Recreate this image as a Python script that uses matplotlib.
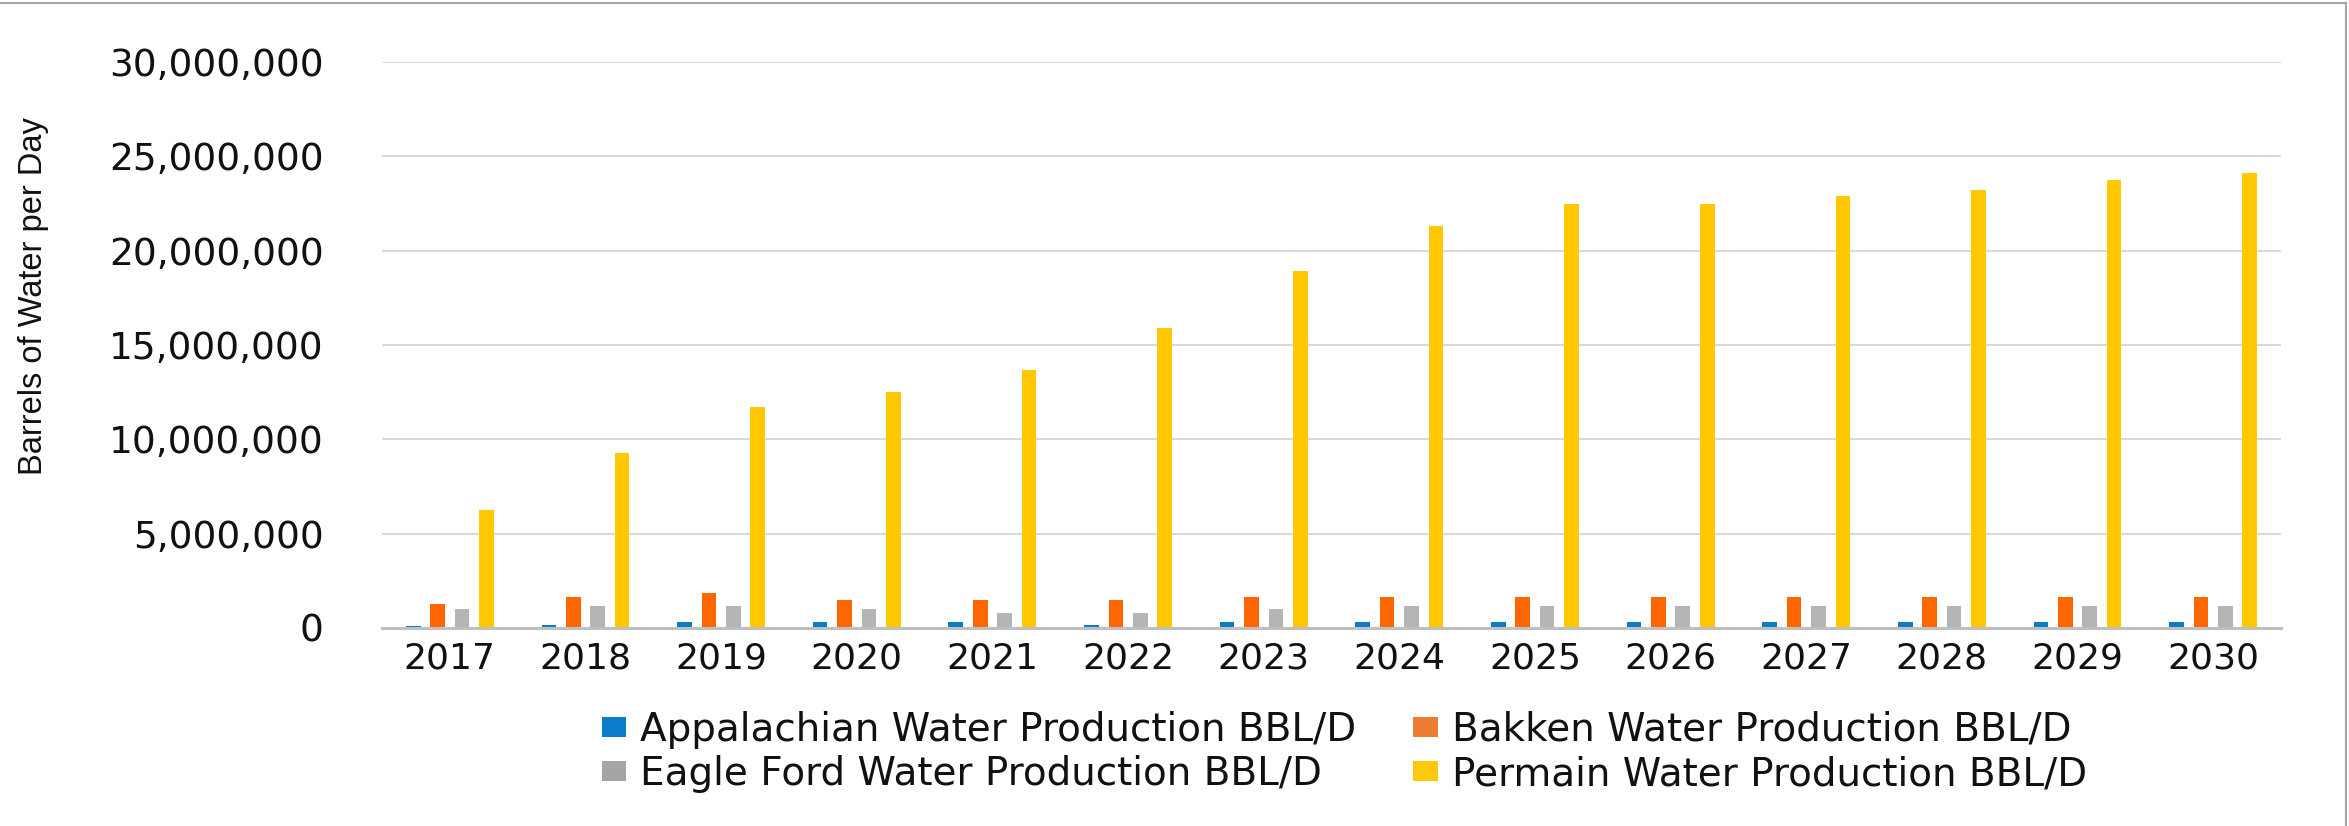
import matplotlib
matplotlib.use("Agg")
import matplotlib.pyplot as plt
import matplotlib.ticker as mticker
from matplotlib.patches import Patch
from matplotlib.lines import Line2D
import numpy as np

years = ["2017", "2018", "2019", "2020", "2021", "2022", "2023",
         "2024", "2025", "2026", "2027", "2028", "2029", "2030"]

# barrels of water per day
appalachian = [130000, 140000, 340000, 340000, 340000, 140000, 340000,
               340000, 340000, 340000, 340000, 340000, 340000, 340000]
bakken = [1280000, 1660000, 1860000, 1480000, 1480000, 1480000, 1660000,
          1660000, 1660000, 1660000, 1660000, 1660000, 1660000, 1660000]
eagle_ford = [1000000, 1180000, 1180000, 1000000, 800000, 800000, 1000000,
              1180000, 1180000, 1180000, 1180000, 1180000, 1180000, 1180000]
permain = [6270000, 9280000, 11720000, 12490000, 13680000, 15900000, 18930000,
           21300000, 22500000, 22450000, 22900000, 23200000, 23740000, 24130000]

labels = ["Appalachian Water Production BBL/D", "Bakken Water Production BBL/D",
          "Eagle Ford Water Production BBL/D", "Permain Water Production BBL/D"]
bar_colors = ["#0A7BC6", "#FF6600", "#B3B5B7", "#FFC800"]
legend_colors = ["#0B7DCB", "#ED7D31", "#A5A5A5", "#FFC90A"]

fig = plt.figure(figsize=(23.49, 8.26), dpi=100)
ax = fig.add_axes([382 / 2349, 1 - 628 / 826, (2281 - 382) / 2349, (628 - 62) / 826])

x = np.arange(len(years))
step = 0.18
width = 0.108
series = [appalachian, bakken, eagle_ford, permain]
for i, (vals, col) in enumerate(zip(series, bar_colors)):
    ax.bar(x + (i - 1.5) * step, vals, width, color=col, zorder=3)

ax.set_xlim(-0.5, len(years) - 0.5)
ax.set_ylim(0, 30000000)
ax.set_yticks(np.arange(0, 30000001, 5000000))
ax.yaxis.set_major_formatter(mticker.FuncFormatter(lambda v, p: f"{int(v):,}"))
ax.set_xticks(x)
ax.set_xticklabels(years)

ax.grid(axis="y", color="#D9D9D9", linewidth=1.5, zorder=0)
for s in ["top", "right", "left"]:
    ax.spines[s].set_visible(False)
ax.spines["bottom"].set_color("#BFBFBF")
ax.spines["bottom"].set_linewidth(2.2)
ax.spines["bottom"].set_zorder(4)
ax.tick_params(axis="both", length=0, colors="#111111")
ax.tick_params(axis="y", pad=42, labelsize=27)
ax.tick_params(axis="x", pad=10, labelsize=26)

fig.text(34 / 2349, 1 - 296 / 826, "Barrels of Water per Day", rotation=90,
         ha="center", va="center", fontsize=23.5, family="Liberation Sans",
         color="#111111")

# legend: column order so rows read Appalachian/Bakken, Eagle Ford/Permain
order = [0, 2, 1, 3]
handles = [Patch(facecolor=legend_colors[k], edgecolor="none") for k in order]
leg = fig.legend(handles, [labels[k] for k in order], ncol=2, frameon=False,
                 loc="center left", bbox_to_anchor=(602 / 2349, 1 - 752 / 826),
                 fontsize=28, handlelength=0.62, handleheight=0.41,
                 handletextpad=0.36, columnspacing=1.47, labelspacing=0.17,
                 borderpad=0, borderaxespad=0)
for t in leg.get_texts():
    t.set_color("#111111")

# outer frame lines (top and right)
fig.add_artist(Line2D([0, 2346 / 2349], [1 - 3 / 826, 1 - 3 / 826],
                      transform=fig.transFigure, color="#A6A6A6", linewidth=1.5))
fig.add_artist(Line2D([2346 / 2349, 2346 / 2349], [0, 1 - 3 / 826],
                      transform=fig.transFigure, color="#A6A6A6", linewidth=1.5))

fig.savefig("out.png", dpi=100, facecolor="white")
